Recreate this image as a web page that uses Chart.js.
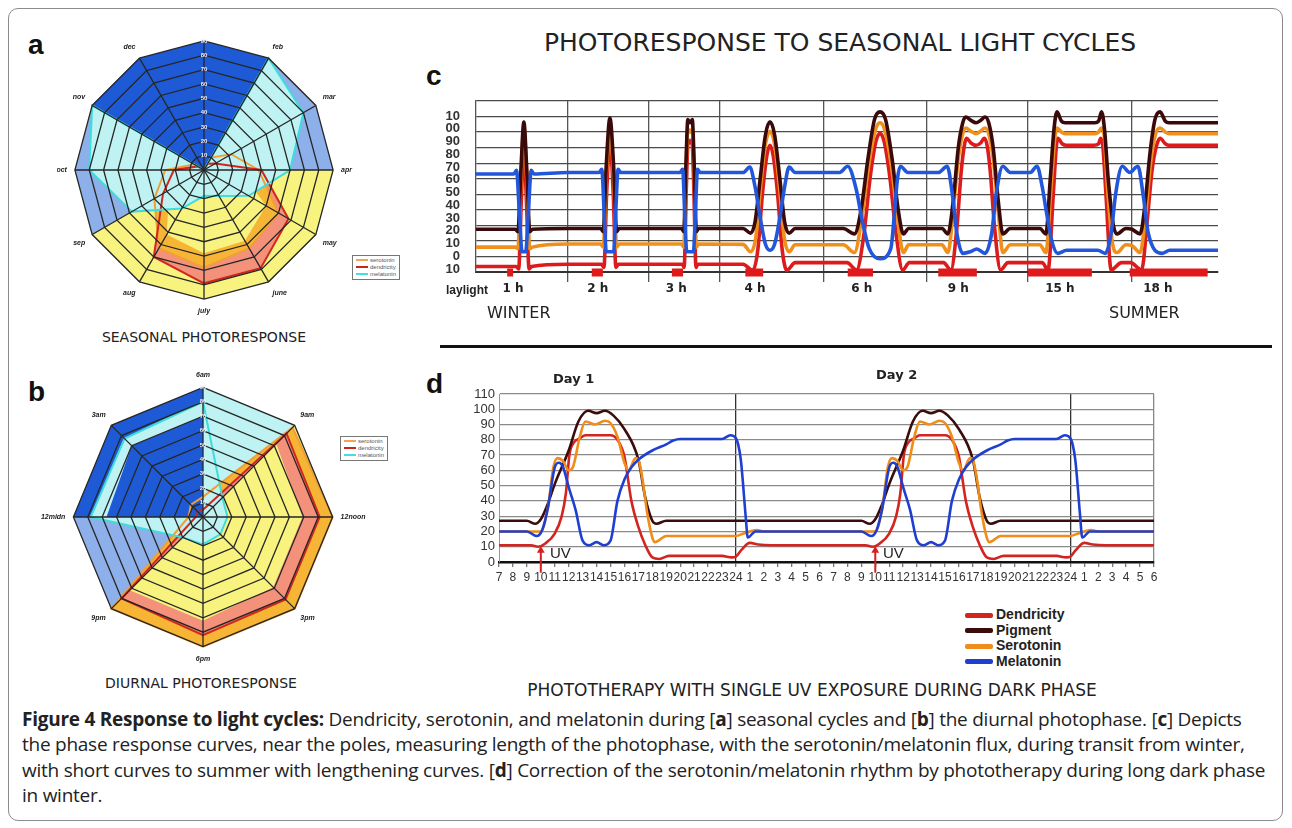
<!DOCTYPE html>
<html>
<head>
<meta charset="utf-8">
<script src="https://cdn.jsdelivr.net/npm/chart.js@4.4.1/dist/chart.umd.min.js"></script>
<style>
  html, body { margin: 0; padding: 0; background: #fff; }
  body { width: 1292px; height: 828px; position: relative; overflow: hidden; font-family: "DejaVu Sans", sans-serif; }
  .abs { position: absolute; }
  .frame { left: 8px; top: 8px; width: 1273px; height: 811px; border: 1.5px solid #8c8c8c; border-radius: 10px; }
  .plabel { font-family: "Liberation Sans", Arial, sans-serif; font-weight: bold; font-size: 28px; color: #111; line-height: 1; }
  .hand { font-family: "DejaVu Sans", sans-serif; color: #222; white-space: nowrap; line-height: 1; }
  .narrow { font-family: "Liberation Sans", Arial, sans-serif; font-weight: bold; color: #222; white-space: nowrap; line-height: 1; }
  .mini { border: 1px solid #777; background: #fff; padding: 1px 3px; font-family: Arial, sans-serif; font-size: 6px; color: #555; line-height: 7px; }
  .mini span { display: inline-block; width: 12px; height: 2px; vertical-align: middle; margin-right: 2px; }
  .leg { font-family: "Liberation Sans", Arial, sans-serif; font-weight: bold; font-size: 14px; color: #222; line-height: 15.5px; }
  .leg span { display: inline-block; width: 28px; height: 5px; vertical-align: middle; margin-right: 3px; border-radius: 2px; }
  .caption { left: 22px; top: 707px; font-family: "Open Sans", sans-serif; font-size: 19px; line-height: 25.4px; color: #222; white-space: nowrap; letter-spacing: -0.25px; }
</style>
</head>
<body>
<div class="abs frame"></div>

<div class="abs plabel" style="left:28px;top:31px;">a</div>
<div class="abs plabel" style="left:28px;top:378px;">b</div>
<div class="abs plabel" style="left:426px;top:62px;">c</div>
<div class="abs plabel" style="left:426px;top:370px;">d</div>

<div class="abs hand" style="left:520px;top:30px;width:640px;text-align:center;font-size:25px;">PHOTORESPONSE TO SEASONAL LIGHT CYCLES</div>

<div class="abs" style="left:57px;top:22px;width:296px;height:296px;"><canvas id="chartA"></canvas></div>
<div class="abs" style="left:41px;top:371px;width:326px;height:292px;"><canvas id="chartB"></canvas></div>
<div class="abs" style="left:430px;top:92px;width:800px;height:212px;"><canvas id="chartC"></canvas></div>
<div class="abs" style="left:455px;top:385px;width:715px;height:212px;"><canvas id="chartD"></canvas></div>

<div class="abs mini" style="left:352px;top:255px;">
  <div><span style="background:#f2a35a"></span>serotonin</div>
  <div><span style="background:#c8261c"></span>dendricity</div>
  <div><span style="background:#45dede"></span>melatonin</div>
</div>
<div class="abs mini" style="left:340px;top:436px;">
  <div><span style="background:#f2a35a"></span>serotonin</div>
  <div><span style="background:#c8261c"></span>dendricity</div>
  <div><span style="background:#45dede"></span>melatonin</div>
</div>

<div class="abs hand" style="left:54px;top:330px;width:300px;text-align:center;font-size:14px;">SEASONAL PHOTORESPONSE</div>
<div class="abs hand" style="left:51px;top:676px;width:300px;text-align:center;font-size:14px;">DIURNAL PHOTORESPONSE</div>

<div class="abs narrow" style="left:446px;top:284px;font-size:12px;">laylight</div>
<div class="abs hand" style="left:487px;top:305px;font-size:16px;">WINTER</div>
<div class="abs hand" style="left:1109px;top:305px;font-size:16px;">SUMMER</div>

<div class="abs" style="left:440px;top:345px;width:832px;height:3px;background:#111;"></div>

<div class="abs hand" style="left:553px;top:372px;font-size:13px;font-weight:bold;">Day 1</div>
<div class="abs hand" style="left:876px;top:368px;font-size:13px;font-weight:bold;">Day 2</div>
<div class="abs narrow" style="left:550px;top:545px;font-size:15px;font-weight:normal;">UV</div>
<div class="abs narrow" style="left:883px;top:545px;font-size:15px;font-weight:normal;">UV</div>

<div class="abs leg" style="left:965px;top:607px;">
  <div><span style="background:#d42420"></span>Dendricity</div>
  <div><span style="background:#3a0c0c"></span>Pigment</div>
  <div><span style="background:#f08c1a"></span>Serotonin</div>
  <div><span style="background:#1f3fd1"></span>Melatonin</div>
</div>

<div class="abs hand" style="left:500px;top:682px;width:624px;text-align:center;font-size:17px;">PHOTOTHERAPY WITH SINGLE UV EXPOSURE DURING DARK PHASE</div>

<div class="abs caption">
  <div><b>Figure 4 Response to light cycles:</b> Dendricity, serotonin, and melatonin during [<b>a</b>] seasonal cycles and [<b>b</b>] the diurnal photophase. [<b>c</b>] Depicts</div>
  <div>the phase response curves, near the poles, measuring length of the photophase, with the serotonin/melatonin flux, during transit from winter,</div>
  <div>with short curves to summer with lengthening curves. [<b>d</b>] Correction of the serotonin/melatonin rhythm by phototherapy during long dark phase</div>
  <div>in winter.</div>
</div>

<script>
// ---- panel a: seasonal radar (values 0-90) ----
const A_LABELS = ["", "feb", "mar", "apr", "may", "june", "july", "aug", "sep", "oct", "nov", "dec"];
const A_BG_MID_BLUE = [90, 90, 90, 90, 0, 0, 0, 0, 90, 90, 90, 90];
const A_BG_YELLOW = [0, 0, 0, 90, 90, 90, 90, 90, 90, 0, 0, 0];
const A_BG_DARK_BLUE = [90, 90, 0, 0, 0, 0, 0, 0, 0, 0, 90, 90];
const A_DENDRICITY = [0, 5, 9, 40, 68, 79, 79, 70, 33, 21, 5, 0];
const A_SEROTONIN = [0, 10, 22, 38, 60, 63, 68, 63, 40, 27, 8, 0];
const A_INNER_YELLOW = [0, 0, 0, 25, 50, 57, 58, 52, 28, 0, 0, 0];
const A_MELATONIN = [0, 90, 80, 60, 36, 21, 18, 31, 58, 80, 90, 0];

// ---- panel b: diurnal radar ----
const B_LABELS = ["6am", "9am", "12noon", "3pm", "6pm", "9pm", "12midn", "3am"];
const B_BG_CYAN = [90, 90, 0, 0, 0, 0, 0, 0];
const B_BG_YELLOW = [0, 90, 90, 90, 90, 90, 0, 0];
const B_BG_MID_BLUE = [0, 0, 0, 0, 0, 90, 90, 0];
const B_BG_DARK_BLUE = [90, 0, 0, 0, 0, 0, 90, 90];
const B_SEROTONIN = [14, 88, 90, 90, 90, 90, 10, 12];
const B_DENDRICITY = [5, 82, 81, 81, 82, 80, 5, 5];
const B_INNER_YELLOW = [0, 72, 69, 69, 72, 72, 0, 0];
const B_MELATONIN = [80, 19, 17, 17, 19, 20, 78, 77];
const B_INNER_DARK_BLUE = [70, 0, 0, 0, 0, 0, 67, 70];

// ---- panel c: seasonal light cycles, x = position along the year strip (0-100) ----
const C_TICK_VALUES = [110, 100, 90, 80, 70, 60, 50, 40, 30, 20, 10, 0, -10];
const C_TICK_LABELS = ["10", "00", "90", "80", "70", "60", "50", "40", "30", "20", "10", "0", "10"];
const C_DIVIDERS = [12.4, 23.3, 32.9, 46.8, 60.8, 74.4, 88.4];
const C_HOUR_POS = [5.0, 16.4, 27.0, 37.6, 52.0, 65.0, 78.7, 91.9];
const C_HOUR_LABELS = ["1 h", "2 h", "3 h", "4 h", "6 h", "9 h", "15 h", "18 h"];
const C_DAYLIGHT_START = [4.2, 15.6, 26.4, 36.3, 50.1, 62.3, 74.4, 88.1];
const C_DAYLIGHT_END = [5.0, 17.1, 27.9, 38.7, 53.5, 67.5, 83.0, 98.6];

const C_PIGMENT = [
  [0, 17.5], [5.3, 17.5], [5.65, 16], [6.05, 55], [6.45, 86.5], [6.85, 55], [7.25, 16], [7.6, 17.5], [12.4, 18],
  [16.8, 18], [17.15, 16], [17.55, 58], [18.05, 89], [18.55, 58], [18.95, 16], [19.3, 18],
  [27.7, 18], [28.0, 16], [28.3, 60], [28.55, 88], [28.85, 86], [29.15, 88], [29.4, 60], [29.7, 16], [30.0, 18],
  [36.0, 18], [37.0, 15], [37.6, 22], [38.3, 50], [39.0, 78], [39.62, 86.6], [40.25, 78], [40.95, 50], [41.6, 22], [42.2, 15], [43.0, 18],
  [49.5, 18], [51.0, 14.5], [51.9, 30], [52.8, 62], [53.7, 88], [54.45, 93], [55.2, 88], [56.1, 62], [56.9, 30], [57.6, 14.5], [58.3, 18],
  [62.8, 18], [63.6, 14.5], [64.3, 35], [65.0, 70], [65.6, 86], [66.0, 89.7], [66.7, 87.5], [67.4, 86], [68.0, 87.5], [68.6, 89.7], [69.1, 86], [69.7, 70], [70.4, 35], [71.0, 14.5], [72.0, 18],
  [76.0, 18], [76.8, 14.5], [77.4, 50], [77.9, 82], [78.3, 93], [78.9, 87], [79.4, 86], [83.4, 86], [83.9, 87], [84.3, 93], [84.7, 82], [85.2, 50], [85.9, 20], [86.4, 14.5],
  [87.6, 18], [88.4, 17.5], [89.5, 14.5], [90.2, 35], [90.8, 65], [91.5, 88], [92.2, 93], [92.9, 87], [93.4, 86], [100, 86]
];
const C_SEROTONIN = [
  [0, 6], [5.3, 6], [5.65, 5], [6.05, 50], [6.45, 83], [6.85, 50], [7.25, 5], [7.6, 6], [12.4, 8],
  [16.8, 8], [17.15, 6], [17.55, 52], [18.05, 81], [18.55, 52], [18.95, 6], [19.3, 8],
  [27.7, 8], [28.0, 6], [28.3, 55], [28.55, 82], [28.85, 80], [29.15, 82], [29.4, 55], [29.7, 6], [30.0, 8],
  [36.0, 7.8], [37.0, 3], [37.7, 12], [38.35, 45], [39.0, 72], [39.62, 80.5], [40.25, 72], [40.9, 45], [41.55, 12], [42.2, 3], [43.0, 7.5],
  [49.5, 7.5], [51.0, 2.5], [52.0, 25], [52.9, 58], [53.8, 81], [54.45, 86], [55.1, 81], [56.0, 58], [56.8, 25], [57.6, 2.5], [58.3, 7.5],
  [62.8, 7.5], [63.6, 2.5], [64.3, 28], [65.0, 63], [65.6, 79], [66.0, 82.6], [66.7, 80.5], [67.4, 79], [68.0, 80.5], [68.6, 82.6], [69.1, 79], [69.7, 63], [70.4, 28], [71.0, 2.5], [72.0, 7.5],
  [76.0, 7.5], [76.8, 2.5], [77.5, 45], [78.0, 76], [78.3, 82.6], [78.9, 80], [79.4, 79], [83.4, 79], [83.9, 80], [84.3, 82.6], [84.7, 76], [85.1, 45], [85.8, 8], [86.4, 2.5],
  [87.6, 7.5], [88.4, 7], [89.5, 2.5], [90.3, 30], [90.9, 60], [91.6, 79], [92.2, 82.6], [92.9, 80], [93.4, 79], [100, 79]
];
const C_DENDRICITY = [
  [0, -6.5], [5.4, -6.5], [5.75, -8], [6.1, 35], [6.45, 72], [6.8, 35], [7.15, -8], [7.5, -6.5], [12.4, -5],
  [16.9, -5], [17.25, -7], [17.6, 40], [18.05, 74], [18.5, 40], [18.85, -7], [19.2, -5],
  [27.8, -5], [28.05, -7], [28.35, 45], [28.6, 75], [28.85, 73], [29.1, 75], [29.35, 45], [29.65, -7], [29.9, -5],
  [36.0, -5], [37.3, -9], [38.0, 5], [38.6, 40], [39.2, 65], [39.62, 71.5], [40.05, 65], [40.65, 40], [41.25, 5], [41.9, -9], [43.0, -4],
  [50.0, -4], [51.3, -8.7], [52.3, 15], [53.1, 50], [53.9, 74], [54.45, 79], [55.0, 74], [55.8, 50], [56.6, 15], [57.5, -8.7], [58.4, -4],
  [63.0, -4], [64.0, -8.7], [64.8, 18], [65.4, 55], [65.8, 71], [66.1, 76], [66.7, 73], [67.4, 71.5], [68.0, 73], [68.5, 76], [68.9, 71], [69.3, 55], [69.9, 18], [70.7, -8.7], [71.7, -4],
  [76.3, -4], [77.1, -8.7], [77.8, 40], [78.2, 70], [78.4, 76], [79.0, 72.5], [79.5, 71.5], [83.3, 71.5], [83.9, 72.5], [84.2, 76], [84.5, 70], [84.9, 40], [85.6, -8.7],
  [87.0, -4], [88.2, -4], [89.7, -8.7], [90.5, 25], [91.1, 55], [91.7, 71], [92.2, 76], [92.9, 72.5], [93.4, 71.5], [100, 71.5]
];
const C_MELATONIN = [
  [0, 53], [5.1, 53], [5.45, 55.5], [5.85, 28], [6.2, 3], [6.7, 3], [7.05, 28], [7.45, 55.5], [7.8, 53], [12.4, 54],
  [16.6, 54], [16.95, 56], [17.3, 25], [17.55, 3], [18.55, 3], [18.8, 25], [19.15, 56], [19.5, 54],
  [27.5, 54], [27.85, 56], [28.15, 25], [28.4, 3], [29.3, 3], [29.55, 25], [29.85, 56], [30.2, 54],
  [36.0, 54], [36.9, 57.5], [37.6, 45], [38.3, 25], [39.0, 8], [39.62, 4], [40.25, 8], [40.95, 25], [41.6, 45], [42.2, 57.5], [43.0, 54],
  [49.0, 54], [50.1, 58], [51.2, 44], [52.1, 22], [53.0, 5], [54.45, -1.5], [55.9, 5], [56.4, 28], [56.8, 50], [57.2, 58], [58.2, 54],
  [62.3, 54], [63.5, 58], [64.2, 40], [64.8, 15], [65.6, 2], [66.6, 3], [67.5, 4.8], [68.6, 2], [69.5, 15], [70.1, 40], [71.0, 58], [72.0, 54],
  [74.7, 54], [75.6, 58], [76.3, 45], [76.9, 28], [77.6, 10], [78.4, 2], [79.6, 4], [83.8, 4], [84.8, 2], [85.6, 15], [86.2, 40], [87.1, 58],
  [88.1, 54], [89.2, 58], [89.9, 40], [90.6, 15], [92.5, 2], [93.5, 4], [100, 4]
];

// ---- panel d: two days, x = hour index (0 = 7h day 1 ... 47 = 6h after day 2) ----
const D_HOUR_LABELS = [
  "7", "8", "9", "10", "11", "12", "13", "14", "15", "16", "17", "18", "19", "20", "21", "22", "23", "24", "1", "2", "3", "4", "5", "6",
  "7", "8", "9", "10", "11", "12", "13", "14", "15", "16", "17", "18", "19", "20", "21", "22", "23", "24", "1", "2", "3", "4", "5", "6"
];
const D_DIVIDERS = [17, 41];
const D_RIGHT_EDGE = 47;
const D_UV_X = [3, 27];
const D_UV_Y = [-7, 7.5];

const D_DENDRICITY = [
  [0, 11], [2.3, 11], [2.8, 10], [3.3, 12], [4, 18.6], [4.5, 30], [4.8, 45], [5.05, 70], [5.35, 78], [5.8, 81], [6.2, 83], [8, 83],
  [8.5, 80], [9, 69], [9.5, 40], [10, 23], [10.5, 11], [11, 3], [11.5, 2], [12.2, 4], [16, 4], [16.7, 3], [17, 3.5], [17.4, 8], [18, 12.5], [18.6, 11.5], [19.5, 11],
  [26.3, 11], [26.8, 10], [27.3, 12], [28, 18.6], [28.5, 30], [28.8, 45], [29.05, 70], [29.35, 78], [29.8, 81], [30.2, 83], [32, 83],
  [32.5, 80], [33, 69], [33.5, 40], [34, 23], [34.5, 11], [35, 3], [35.5, 2], [36.2, 4], [40, 4], [40.7, 3], [41, 3.5], [41.4, 8], [42, 12.5], [42.6, 11.5], [43.5, 11], [47, 11]
];
const D_PIGMENT = [
  [0, 27], [2, 27], [2.6, 25], [3, 28], [3.5, 38], [4, 51], [5, 73], [5.7, 92], [6.4, 99], [7, 97.5], [7.6, 99], [8.2, 96], [9, 87], [10, 67], [10.5, 42], [11, 27], [11.3, 25], [12, 27],
  [26, 27], [26.6, 25], [27, 28], [27.5, 38], [28, 51], [29, 73], [29.7, 92], [30.4, 99], [31, 97.5], [31.6, 99], [32.2, 96], [33, 87], [34, 67], [34.5, 42], [35, 27], [35.3, 25], [36, 27],
  [47, 27]
];
const D_SEROTONIN = [
  [0, 20], [3, 20], [3.5, 35], [3.9, 62], [4.2, 68], [4.6, 66], [5, 60], [5.3, 62], [5.8, 82], [6.2, 92], [6.9, 90], [7.6, 92.5], [8, 91],
  [8.5, 82], [9, 65], [9.3, 60], [9.8, 68], [10, 67], [10.3, 54], [10.6, 34], [11, 16], [11.2, 13], [12, 17], [17, 17], [17.5, 18.5], [18, 20], [18.5, 21], [19, 20],
  [27, 20], [27.5, 35], [27.9, 62], [28.2, 68], [28.6, 66], [29, 60], [29.3, 62], [29.8, 82], [30.2, 92], [30.9, 90], [31.6, 92.5], [32, 91],
  [32.5, 82], [33, 65], [33.3, 60], [33.8, 68], [34, 67], [34.3, 54], [34.6, 34], [35, 16], [35.2, 13], [36, 17], [41, 17], [41.5, 18.5], [42, 20], [42.5, 21], [43, 20], [47, 20]
];
const D_MELATONIN = [
  [0, 20], [2, 20], [2.7, 17], [3.1, 21], [3.5, 35], [4, 62], [4.3, 65], [4.6, 62], [5, 49], [5.5, 34], [6, 14], [6.5, 11], [7, 13], [7.5, 11], [8, 14],
  [8.5, 40], [9, 54], [9.5, 62], [10, 67], [11, 73], [12, 77], [12.5, 79.5], [13, 80.5], [16, 80.5], [16.6, 83], [17, 81], [17.35, 67], [17.7, 30], [17.85, 16], [18.4, 20],
  [26, 20], [26.7, 17], [27.1, 21], [27.5, 35], [28, 62], [28.3, 65], [28.6, 62], [29, 49], [29.5, 34], [30, 14], [30.5, 11], [31, 13], [31.5, 11], [32, 14],
  [32.5, 40], [33, 54], [33.5, 62], [34, 67], [35, 73], [36, 77], [36.5, 79.5], [37, 80.5], [40, 80.5], [40.6, 83], [41, 81], [41.35, 67], [41.7, 30], [41.85, 16], [42.4, 20], [47, 20]
];

const COL = {
  darkBlue: "#1f5ad6", midBlue: "#8db0ea", cyanFill: "#bff3f3", yellow: "#f7f37e",
  salmon: "#f3917a", orangeFill: "#f6b535", red: "#d2261e", orange: "#f0a035", cyan: "#3fdcdc"
};

function radarChart(id, labels, fills, lines) {
  const fillSets = fills.map(function (f) {
    return { data: f[0], backgroundColor: f[1], borderWidth: 0, borderColor: f[1], fill: "origin", pointRadius: 0 };
  });
  const lineSets = lines.map(function (l) {
    return { data: l[0], borderColor: l[1], borderWidth: 2, fill: false, pointRadius: 0 };
  });
  // listed bottom -> top; Chart.js draws index 0 on top
  const datasets = fillSets.concat(lineSets).reverse();
  new Chart(document.getElementById(id), {
    type: "radar",
    data: { labels: labels, datasets: datasets },
    options: {
      responsive: true,
      maintainAspectRatio: false,
      animation: false,
      plugins: { legend: { display: false }, tooltip: { enabled: false } },
      elements: { line: { tension: 0 } },
      scales: {
        r: {
          min: 0, max: 90,
          ticks: { z: 2, stepSize: 10, color: "#eef", font: { family: "Liberation Sans", size: 6, weight: "bold" }, showLabelBackdrop: false },
          grid: { z: 1, color: "#262626", lineWidth: 1.3 },
          angleLines: { color: "#262626", lineWidth: 1.3 },
          pointLabels: { color: "#222", font: { family: "Liberation Sans", size: 7, style: "italic", weight: "bold" }, padding: 3 }
        }
      }
    }
  });
}

radarChart("chartA", A_LABELS,
  [[A_BG_MID_BLUE, COL.midBlue], [A_BG_YELLOW, COL.yellow], [A_BG_DARK_BLUE, COL.darkBlue],
   [A_DENDRICITY, COL.salmon], [A_SEROTONIN, COL.orangeFill], [A_INNER_YELLOW, COL.yellow], [A_MELATONIN, COL.cyanFill]],
  [[A_SEROTONIN, COL.orange], [A_DENDRICITY, COL.red], [A_MELATONIN, COL.cyan]]);

radarChart("chartB", B_LABELS,
  [[B_BG_CYAN, COL.cyanFill], [B_BG_YELLOW, COL.yellow], [B_BG_MID_BLUE, COL.midBlue], [B_BG_DARK_BLUE, COL.darkBlue],
   [B_SEROTONIN, COL.orangeFill], [B_DENDRICITY, COL.salmon], [B_INNER_YELLOW, COL.yellow], [B_MELATONIN, COL.cyanFill],
   [B_INNER_DARK_BLUE, COL.darkBlue]],
  [[B_SEROTONIN, COL.orange], [B_DENDRICITY, COL.red], [B_MELATONIN, COL.cyan]]);

function curve(data, color, width) {
  return { data: data, borderColor: color, borderWidth: width, pointRadius: 0, fill: false, cubicInterpolationMode: "monotone" };
}

// panel c
const daylight = [];
C_DAYLIGHT_START.forEach(function (s, i) {
  daylight.push([s, -10.3], [C_DAYLIGHT_END[i], -10.3], [C_DAYLIGHT_END[i] + 0.01, null]);
});

new Chart(document.getElementById("chartC"), {
  type: "line",
  data: {
    datasets: [
      curve(C_MELATONIN, "#2257dc", 3.6),
      curve(C_PIGMENT, "#3a0a0a", 3.6),
      curve(C_SEROTONIN, "#f0901c", 3.6),
      curve(C_DENDRICITY, "#dc1c1c", 3.6),
      { data: daylight, borderColor: "#e01a1a", borderWidth: 8, borderCapStyle: "butt", pointRadius: 0, spanGaps: false, clip: false }
    ]
  },
  options: {
    responsive: true, maintainAspectRatio: false, animation: false,
    layout: { padding: { left: 0, top: 9, right: 12, bottom: 0 } },
    plugins: { legend: { display: false }, tooltip: { enabled: false } },
    scales: {
      x: {
        type: "linear", min: 0, max: 100,
        afterBuildTicks: function (ax) {
          ax.ticks = C_DIVIDERS.concat(C_HOUR_POS).sort(function (a, b) { return a - b; }).map(function (v) { return { value: v }; });
        },
        afterFit: function (ax) { ax.height = 32; ax.paddingLeft = 0; ax.paddingRight = 0; },
        grid: {
          color: function (ctx) { return ctx.tick && C_DIVIDERS.indexOf(ctx.tick.value) >= 0 ? "#555" : "rgba(0,0,0,0)"; },
          lineWidth: 1.3, tickLength: 10
        },
        border: { color: "#333", width: 2 },
        ticks: {
          autoSkip: false, maxRotation: 0, padding: 0, color: "#222",
          font: { family: "DejaVu Sans", size: 12, weight: "bold" },
          callback: function (v) { const i = C_HOUR_POS.indexOf(v); return i >= 0 ? C_HOUR_LABELS[i] : ""; }
        }
      },
      y: {
        min: -10, max: 100, weight: 0,
        afterFit: function (ax) { ax.width = 0; ax.paddingTop = 0; ax.paddingBottom = 0; },
        ticks: { stepSize: 10, display: false },
        grid: { color: "#4a4a4a", lineWidth: 1.3, drawTicks: false },
        border: { color: "#555", width: 1.3 }
      },
      yLabels: {
        position: "left", weight: 1, min: -12.35, max: 121.76,
        afterBuildTicks: function (ax) { ax.ticks = C_TICK_VALUES.map(function (v) { return { value: v }; }); },
        afterFit: function (ax) { ax.width = 46; ax.paddingTop = 0; ax.paddingBottom = 0; },
        grid: { display: false }, border: { display: false },
        ticks: {
          autoSkip: false, padding: 8, color: "#333",
          font: { family: "Liberation Sans", size: 13, weight: "bold" },
          callback: function (v) { return C_TICK_LABELS[C_TICK_VALUES.indexOf(v)]; }
        }
      }
    }
  }
});

// panel d
const uvArrows = D_UV_X.map(function (x) {
  return {
    data: [[x, D_UV_Y[0]], [x, D_UV_Y[1]]], borderColor: "#d42020", borderWidth: 2,
    pointRadius: [0, 4.5], pointStyle: "triangle", pointBackgroundColor: "#d42020", pointBorderWidth: 0, clip: false
  };
});

new Chart(document.getElementById("chartD"), {
  type: "line",
  data: {
    datasets: [
      curve(D_MELATONIN, "#1f3fd1", 2.6),
      curve(D_SEROTONIN, "#f08c1a", 2.6),
      curve(D_PIGMENT, "#3a0c0c", 2.6),
      curve(D_DENDRICITY, "#d42420", 2.6)
    ].concat(uvArrows)
  },
  options: {
    responsive: true, maintainAspectRatio: false, animation: false,
    layout: { padding: { left: 0, top: 9, right: 16, bottom: 0 } },
    plugins: { legend: { display: false }, tooltip: { enabled: false } },
    scales: {
      x: {
        type: "linear", min: 0, max: D_RIGHT_EDGE,
        afterFit: function (ax) { ax.height = 35; ax.paddingLeft = 0; ax.paddingRight = 0; },
        grid: {
          color: function (ctx) {
            if (!ctx.tick) return "rgba(0,0,0,0)";
            if (D_DIVIDERS.indexOf(ctx.tick.value) >= 0) return "#333";
            if (ctx.tick.value === D_RIGHT_EDGE) return "#888";
            return "rgba(0,0,0,0)";
          },
          tickColor: "#777", tickLength: 5, lineWidth: 1.3
        },
        border: { color: "#111", width: 2.5 },
        ticks: {
          stepSize: 1, autoSkip: false, maxRotation: 0, padding: 3, color: "#333",
          font: { family: "Liberation Sans", size: 12 },
          callback: function (v) { return D_HOUR_LABELS[v]; }
        }
      },
      y: {
        min: 0, max: 110,
        afterFit: function (ax) { ax.width = 44; ax.paddingTop = 0; ax.paddingBottom = 0; },
        ticks: { stepSize: 10, autoSkip: false, padding: 4, color: "#333", font: { family: "Liberation Sans", size: 13 } },
        grid: { color: "#8a8a8a", lineWidth: 1.3, drawTicks: false },
        border: { color: "#999", width: 1 }
      }
    }
  }
});
</script>
</body>
</html>
